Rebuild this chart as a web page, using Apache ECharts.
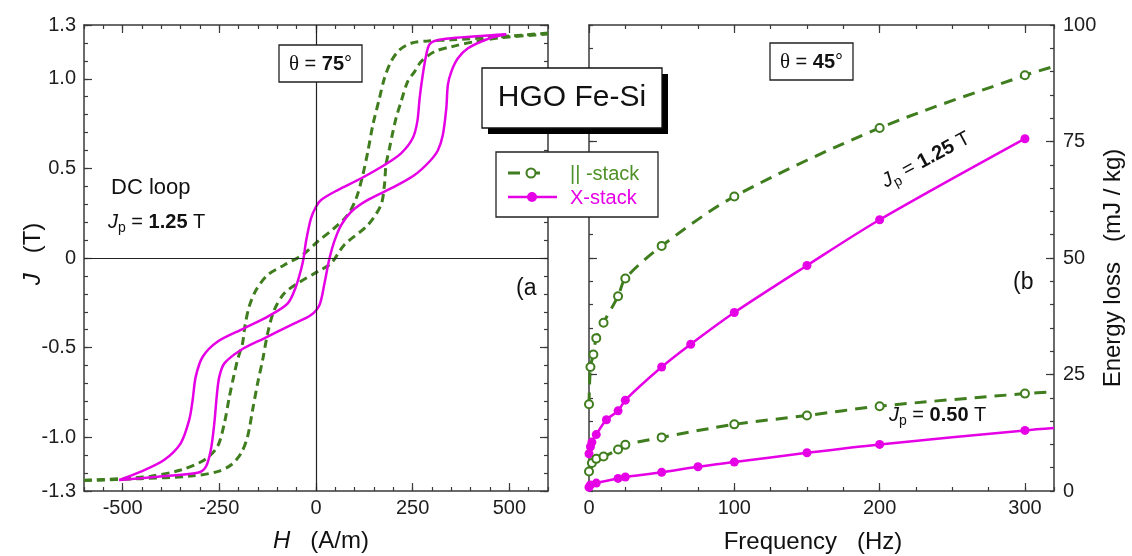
<!DOCTYPE html>
<html><head><meta charset="utf-8">
<script src="https://cdn.jsdelivr.net/npm/echarts@6/dist/echarts.min.js"></script>
<style>html,body{margin:0;padding:0;background:#fff}#c{width:1132px;height:556px}</style>
</head><body><div id="c"></div>
<script>
// ---------- tick labels ----------
const hMajorTicks = [-500, -250, 0, 250, 500];
const jTickLabels = [-1.3, -1.0, -0.5, 0, 0.5, 1.0, 1.3];
const fTickLabels = [0, 100, 200, 300];
const eTickLabels = [0, 25, 50, 75, 100];
const eMajorTicks = [25, 50, 75];

// ---------- (a) DC loops, [H (A/m), J (T)] ----------
const xStackAscending = [[-509,-1.239],[-410,-1.220],[-306,-1.198],[-285,-1.165],[-272,-1.071],[-263,-0.922],[-256,-0.755],[-250,-0.662],[-237,-0.588],[-194,-0.513],[-134,-0.448],[-65,-0.374],[-13,-0.318],[9,-0.262],[22,-0.141],[34,-0.01],[47,0.091],[65,0.184],[91,0.258],[134,0.324],[203,0.398],[255,0.463],[293,0.537],[315,0.60],[328,0.686],[337,0.835],[341,0.965],[350,1.04],[367,1.114],[393,1.17],[444,1.222],[492,1.248]];
const xStackDescending = [[492,1.248],[350,1.226],[306,1.211],[293,1.19],[285,1.133],[276,1.021],[268,0.891],[262,0.761],[250,0.668],[220,0.584],[177,0.519],[117,0.445],[56,0.379],[13,0.324],[0,0.286],[-13,0.221],[-26,0.091],[-32,0],[-39,-0.067],[-52,-0.16],[-73,-0.253],[-125,-0.327],[-186,-0.392],[-255,-0.467],[-293,-0.551],[-311,-0.662],[-319,-0.792],[-328,-0.904],[-350,-1.034],[-393,-1.127],[-453,-1.192],[-509,-1.239]];
const parStackAscending = [[-600,-1.242],[-453,-1.231],[-324,-1.217],[-255,-1.192],[-220,-1.155],[-194,-1.09],[-177,-0.997],[-164,-0.848],[-151,-0.699],[-138,-0.569],[-125,-0.42],[-108,-0.29],[-82,-0.197],[-47,-0.141],[4,-0.076],[39,-0.03],[73,0.073],[134,0.184],[168,0.296],[177,0.407],[181,0.519],[190,0.612],[199,0.705],[207,0.78],[220,0.872],[237,0.984],[255,1.04],[272,1.096],[306,1.151],[350,1.179],[410,1.207],[479,1.229],[565,1.244],[600,1.25]];
const parStackDescending = [[600,1.255],[479,1.235],[350,1.217],[289,1.211],[246,1.198],[216,1.161],[194,1.096],[177,1.003],[164,0.891],[147,0.742],[134,0.593],[121,0.463],[104,0.333],[82,0.24],[47,0.166],[4,0.091],[-35,0.017],[-82,-0.039],[-125,-0.095],[-155,-0.179],[-173,-0.272],[-184,-0.383],[-190,-0.476],[-203,-0.569],[-213,-0.662],[-224,-0.774],[-237,-0.922],[-255,-1.053],[-289,-1.127],[-350,-1.183],[-427,-1.217],[-505,-1.231],[-600,-1.24]];

// ---------- (b) energy loss vs frequency ----------
const freqPar125 = [0, 1, 3, 5, 10, 20, 25, 50, 100, 200, 300, 320];
const lossPar125 = [18.6, 26.6, 29.3, 32.8, 36.1, 41.8, 45.6, 52.6, 63.2, 77.9, 89.2, 91.1];
const freqX125 = [0, 1, 2, 5, 12, 20, 25, 50, 70, 100, 150, 200, 300];
const lossX125 = [8.0, 9.5, 10.5, 12.1, 15.3, 17.2, 19.5, 26.6, 31.5, 38.3, 48.4, 58.2, 75.6];
const freqPar050 = [0, 2, 5, 10, 20, 25, 50, 100, 150, 200, 300, 320];
const lossPar050 = [4.2, 6.0, 6.9, 7.4, 8.9, 9.9, 11.5, 14.3, 16.2, 18.2, 20.9, 21.3];
const freqX050 = [0, 1, 5, 20, 25, 50, 75, 100, 150, 200, 300, 320];
const lossX050 = [0.8, 1.3, 1.7, 2.7, 3.0, 4.0, 5.2, 6.2, 8.2, 10.0, 13.0, 13.5];

// ---------- styles ----------
const FF = "'Liberation Sans', Arial, Helvetica, sans-serif";
const SERIF = "'Liberation Serif', 'DejaVu Serif', serif";
const GREEN = '#3f7d1e';
const GREEN_TXT = '#4e9128';
const MAG = '#e600e6';
const AX = '#3a3a3a';

function pts(fs, es) {
  return fs.map((f, i) => f > 300 ? { value: [f, es[i]], symbol: 'none' } : [f, es[i]]);
}

function minorAxis(gi, pos, min, max, interval, len) {
  return { type: 'value', gridIndex: gi, position: pos, min: min, max: max, interval: interval,
    axisLine: { show: true, onZero: false, lineStyle: { color: AX, width: 1.5 } },
    axisTick: { show: true, inside: true, length: len, lineStyle: { color: AX, width: 1.2 } },
    axisLabel: { show: false }, splitLine: { show: false } };
}
function majorAxis(gi, pos, min, max, ticks, labels, fmt, margin) {
  return { type: 'value', gridIndex: gi, position: pos, min: min, max: max,
    axisLine: { show: false, onZero: false },
    axisTick: { show: true, inside: true, length: 8, customValues: ticks, lineStyle: { color: AX, width: 1.2 } },
    axisLabel: labels ? { show: true, customValues: labels, formatter: fmt, fontSize: 20, color: '#1e1e1e', fontFamily: FF, margin: margin } : { show: false },
    splitLine: { show: false } };
}
const jFmt = v => (Math.abs(v) < 1e-9 ? '0' : v.toFixed(1));
const intFmt = v => String(Math.round(v));

const loopLine = (data, color, dashed) => ({
  type: 'line', xAxisIndex: 0, yAxisIndex: 0, data: data, showSymbol: false, symbol: 'none',
  smooth: 0.3, z: 3,
  lineStyle: { color: color, width: dashed ? 3 : 2.5, type: dashed ? [8, 5] : 'solid' }
});
const lossLine = (data, color, dashed) => ({
  type: 'line', xAxisIndex: 4, yAxisIndex: 4, data: data, smooth: 0.3, z: 3,
  symbol: dashed ? 'emptyCircle' : 'circle', symbolSize: dashed ? 8 : 9, showSymbol: true,
  itemStyle: dashed ? { color: color, borderColor: color, borderWidth: 1.6 } : { color: color },
  lineStyle: { color: color, width: dashed ? 3 : 2.5, type: dashed ? [12, 8] : 'solid' }
});

const rJ = {
  i: { fontStyle: 'italic', fontSize: 20, fontFamily: FF, fill: '#111' },
  sub: { fontSize: 14, fontFamily: FF, fill: '#111', padding: [12, 0, 0, 0] },
  n: { fontSize: 20, fontFamily: FF, fill: '#111' },
  t: { fontSize: 21, fontFamily: SERIF, fill: '#111' },
  b: { fontSize: 20, fontFamily: FF, fontWeight: 'bold', fill: '#111' }
};

const graphic = [
  // theta boxes
  { type: 'rect', z: 100, shape: { x: 279, y: 45, width: 83, height: 37 }, style: { fill: '#fff', stroke: '#222', lineWidth: 1.3 } },
  { type: 'text', z: 101, x: 320.5, y: 64, style: { text: '{t|θ}{n| = }{b|75}{n|°}', align: 'center', verticalAlign: 'middle', rich: rJ } },
  { type: 'rect', z: 100, shape: { x: 770, y: 43, width: 83, height: 37 }, style: { fill: '#fff', stroke: '#222', lineWidth: 1.3 } },
  { type: 'text', z: 101, x: 811.5, y: 62, style: { text: '{t|θ}{n| = }{b|45}{n|°}', align: 'center', verticalAlign: 'middle', rich: rJ } },
  // HGO box with shadow
  { type: 'rect', z: 100, shape: { x: 488, y: 74, width: 180, height: 60 }, style: { fill: '#000' } },
  { type: 'rect', z: 101, shape: { x: 482, y: 68, width: 180, height: 60 }, style: { fill: '#fff', stroke: '#111', lineWidth: 1.3 } },
  { type: 'text', z: 102, x: 572, y: 98, style: { text: 'HGO Fe-Si', fontSize: 30, fontFamily: FF, fill: '#111', align: 'center', verticalAlign: 'middle' } },
  // legend
  { type: 'rect', z: 100, shape: { x: 496, y: 152, width: 162, height: 65 }, style: { fill: '#fff', stroke: '#222', lineWidth: 1.3 } },
  { type: 'line', z: 101, shape: { x1: 508, y1: 173, x2: 542, y2: 173 }, style: { stroke: GREEN, lineWidth: 3, lineDash: [12, 8] } },
  { type: 'circle', z: 102, shape: { cx: 531, cy: 173, r: 4.5 }, style: { fill: '#fff', stroke: GREEN, lineWidth: 2 } },
  { type: 'text', z: 101, x: 570, y: 174, style: { text: '|| -stack', fontSize: 20, fontFamily: FF, fill: GREEN_TXT, align: 'left', verticalAlign: 'middle' } },
  { type: 'line', z: 101, shape: { x1: 508, y1: 197, x2: 557, y2: 197 }, style: { stroke: MAG, lineWidth: 2.5 } },
  { type: 'circle', z: 102, shape: { cx: 532, cy: 197, r: 5 }, style: { fill: MAG } },
  { type: 'text', z: 101, x: 570, y: 198, style: { text: 'X-stack', fontSize: 20, fontFamily: FF, fill: MAG, align: 'left', verticalAlign: 'middle' } },
  // annotations panel (a)
  { type: 'text', z: 101, x: 111, y: 188, style: { text: 'DC loop', fontSize: 22, fontFamily: FF, fill: '#111', align: 'left', verticalAlign: 'middle' } },
  { type: 'text', z: 101, x: 108, y: 222, style: { text: '{i|J}{sub|p}{n| = }{b|1.25}{n| T}', align: 'left', verticalAlign: 'middle', rich: rJ } },
  { type: 'text', z: 101, x: 516, y: 289, style: { text: '(a', fontSize: 23, fontFamily: FF, fill: '#111', align: 'left', verticalAlign: 'middle' } },
  // annotations panel (b)
  { type: 'text', z: 101, x: 1013, y: 283, style: { text: '(b', fontSize: 23, fontFamily: FF, fill: '#111', align: 'left', verticalAlign: 'middle' } },
  { type: 'text', z: 101, x: 926, y: 160, rotation: 0.49, style: { text: '{i|J}{sub|p}{n| = }{b|1.25}{n| T}', align: 'center', verticalAlign: 'middle', rich: rJ } },
  { type: 'text', z: 101, x: 889, y: 415, style: { text: '{i|J}{sub|p}{n| = }{b|0.50}{n| T}', align: 'left', verticalAlign: 'middle', rich: rJ } },
  // axis titles
  { type: 'text', z: 101, x: 33, y: 254, rotation: Math.PI / 2, style: { text: '{i|J}{n|   (T)}', align: 'center', verticalAlign: 'middle',
      rich: { i: { fontStyle: 'italic', fontSize: 24, fontFamily: FF, fill: '#111' }, n: { fontSize: 24, fontFamily: FF, fill: '#111' } } } },
  { type: 'text', z: 101, x: 321, y: 541, style: { text: '{i|H}{n|   (A/m)}', align: 'center', verticalAlign: 'middle',
      rich: { i: { fontStyle: 'italic', fontSize: 24, fontFamily: FF, fill: '#111' }, n: { fontSize: 24, fontFamily: FF, fill: '#111' } } } },
  { type: 'text', z: 101, x: 813, y: 542, style: { text: 'Frequency   (Hz)', fontSize: 24, fontFamily: FF, fill: '#111', align: 'center', verticalAlign: 'middle' } },
  { type: 'text', z: 101, x: 1113, y: 268, rotation: Math.PI / 2, style: { text: 'Energy loss   (mJ / kg)', fontSize: 24, fontFamily: FF, fill: '#111', align: 'center', verticalAlign: 'middle' } }
];

const option = {
  animation: false,
  backgroundColor: '#fff',
  grid: [
    { left: 84, top: 25, width: 464, height: 466 },
    { left: 589, top: 25, width: 465, height: 466 }
  ],
  xAxis: [
    minorAxis(0, 'bottom', -600, 600, 50, 4),
    majorAxis(0, 'bottom', -600, 600, hMajorTicks, hMajorTicks, intFmt, 7),
    minorAxis(0, 'top', -600, 600, 50, 4),
    majorAxis(0, 'top', -600, 600, hMajorTicks, null),
    minorAxis(1, 'bottom', 0, 320, 25, 4),
    majorAxis(1, 'bottom', 0, 320, fTickLabels, fTickLabels, intFmt, 7),
    minorAxis(1, 'top', 0, 320, 25, 4),
    majorAxis(1, 'top', 0, 320, fTickLabels, null)
  ],
  yAxis: [
    minorAxis(0, 'left', -1.3, 1.3, 0.1, 4),
    majorAxis(0, 'left', -1.3, 1.3, jTickLabels, jTickLabels, jFmt, 8),
    minorAxis(0, 'right', -1.3, 1.3, 0.1, 4),
    majorAxis(0, 'right', -1.3, 1.3, jTickLabels, null),
    minorAxis(1, 'left', 0, 100, 5, 4),
    majorAxis(1, 'left', 0, 100, eMajorTicks, null),
    minorAxis(1, 'right', 0, 100, 5, 4),
    majorAxis(1, 'right', 0, 100, eMajorTicks, eTickLabels, intFmt, 9)
  ],
  series: [
    Object.assign(loopLine(parStackAscending, GREEN, true), {
      markLine: { silent: true, symbol: 'none', animation: false, label: { show: false },
        lineStyle: { color: '#222', width: 1.2, type: 'solid' },
        data: [{ xAxis: 0 }, { yAxis: 0 }] }
    }),
    loopLine(parStackDescending, GREEN, true),
    loopLine(xStackAscending, MAG, false),
    loopLine(xStackDescending, MAG, false),
    lossLine(pts(freqPar125, lossPar125), GREEN, true),
    lossLine(pts(freqX125, lossX125), MAG, false),
    lossLine(pts(freqPar050, lossPar050), GREEN, true),
    lossLine(pts(freqX050, lossX050), MAG, false)
  ],
  graphic: graphic
};
const chart = echarts.init(document.getElementById('c'));
chart.setOption(option);
</script></body></html>
